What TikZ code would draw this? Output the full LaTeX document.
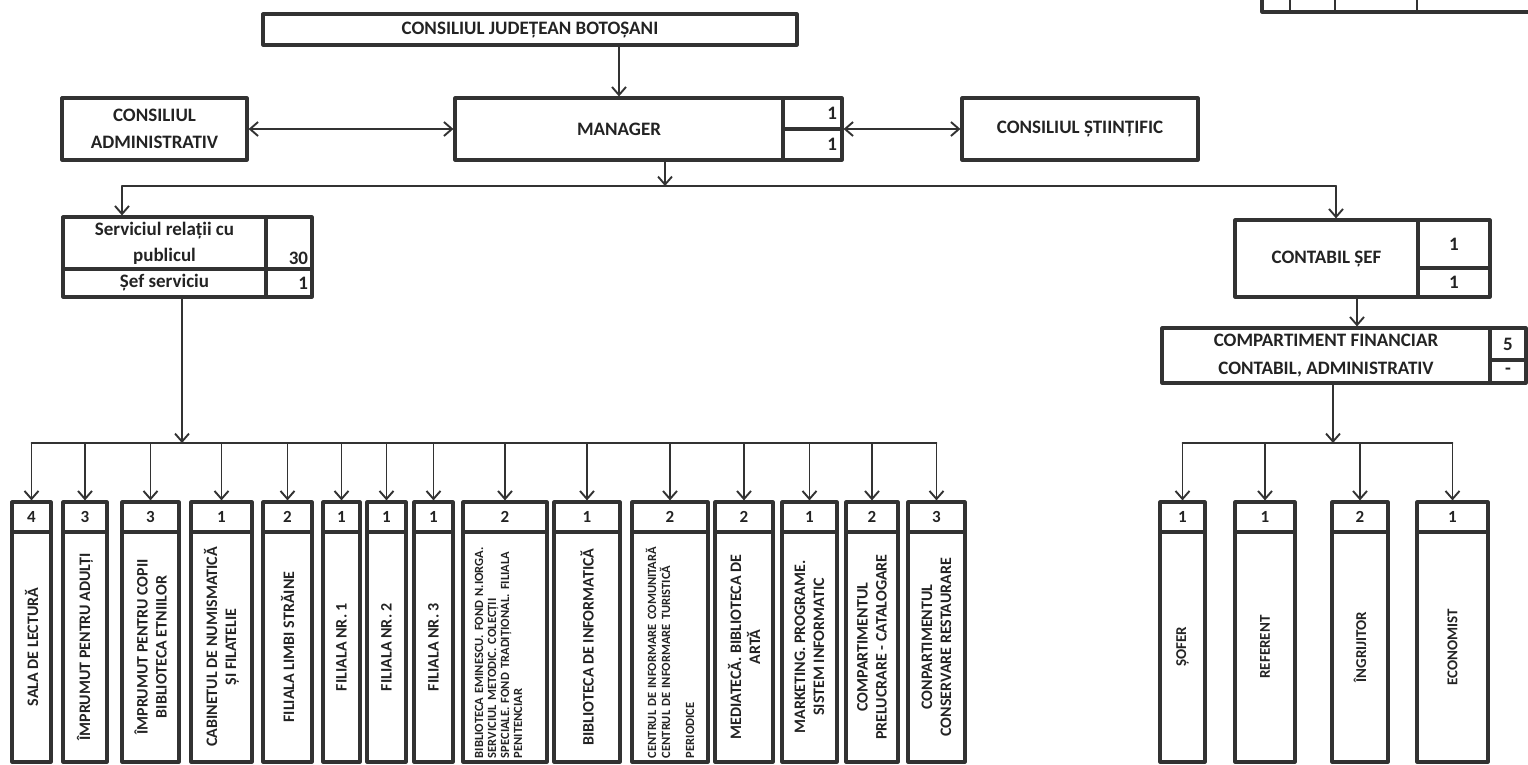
\documentclass[tikz,border=0pt]{standalone}
\usepackage{fontspec}
\setmainfont{Carlito}
\usetikzlibrary{arrows.meta}
\definecolor{ink}{RGB}{50,50,50}
\definecolor{letter}{RGB}{35,35,35}
\newcommand{\boxfont}{\fontsize{19}{22}\selectfont\bfseries}
\newcommand{\unitfont}{\fontsize{16}{19}\selectfont\bfseries}
\newcommand{\smallunitfont}{\fontsize{12.5}{13}\selectfont\bfseries}
\tikzset{
  cell/.style={draw=ink, line width=3.2pt, inner sep=0pt, text=letter, font=\boxfont, align=center},
  num/.style={cell, minimum height=30, font=\fontsize{17}{20}\selectfont\bfseries},
  unit/.style={cell, rotate=90, minimum width=230, font=\unitfont},
  wire/.style={draw=ink, line width=1.9pt},
}
\begin{document}
\begin{tikzpicture}[line cap=round,line join=round,>={Straight Barb[length=8pt,width=14pt]},x=1pt,y=-1pt]
		\useasboundingbox (0,0) rectangle (1528,764);
		% partial table, top right
		\draw [draw=ink,line width=3.2pt] (1262,-6) rectangle (1534,12);
		\draw [draw=ink,line width=1.9pt] (1290,-6) -- (1290,12);
		\draw [draw=ink,line width=1.9pt] (1335,-6) -- (1335,12);
		\draw [draw=ink,line width=1.9pt] (1417,-6) -- (1417,12);
		% top
		\node[cell, minimum width=534, minimum height=31] (jud) at (530,29.5) {CONSILIUL JUDEȚEAN BOTOȘANI};
		\node[cell, minimum width=185, minimum height=62, font=\fontsize{19}{27}\selectfont\bfseries] (adm) at (154.5,129) {CONSILIUL\\ADMINISTRATIV};
		\node[cell, minimum width=328, minimum height=62] (mgr) at (619,129) {MANAGER};
		\node[cell, minimum width=59, minimum height=31] (mgrA) at (812.5,113.5) {};
		\node[cell, minimum width=59, minimum height=31] (mgrB) at (812.5,144.5) {};
		\node[text=letter, font=\boxfont, anchor=east] (mgrAn) at ([xshift=-3]mgrA.east) {1};
		\node[text=letter, font=\boxfont, anchor=east] (mgrBn) at ([xshift=-3]mgrB.east) {1};
		\node[cell, minimum width=236, minimum height=62] (sti) at (1080,129) {CONSILIUL ȘTIINȚIFIC};
		\draw [wire,->] (jud.south -| mgr.north) -- (mgr.north);
		\draw [wire,<->] (adm.east) -- (mgr.west);
		\draw [wire,<->] (mgr.east -| mgrA.east) -- (sti.west);
		% first bus
		\coordinate (busM) at (665,186);
		\coordinate (busL) at (122,186);
		\coordinate (busR) at (1336,186);
		\draw [wire,->] (mgr.south -| busM) -- (busM);
		\draw [wire] (busL) -- (busR);
		% serviciul relatii cu publicul
		\node[cell, minimum width=203, minimum height=52, font=\fontsize{19}{26}\selectfont\bfseries] (srvA) at (164.5,243) {Serviciul relații cu\\publicul};
		\node[cell, minimum width=46, minimum height=52] (srvB) at (289,243) {};
		\node[cell, minimum width=203, minimum height=28, font=\fontsize{19}{22}\selectfont\bfseries] (srvC) at (164.5,283) {Șef serviciu};
		\node[cell, minimum width=46, minimum height=28] (srvD) at (289,283) {};
		\node[text=letter, font=\boxfont, anchor=south east] (srvBn) at ([shift={(-2,-2)}]srvB.south east) {30};
		\node[text=letter, font=\boxfont, anchor=east] (srvDn) at ([xshift=-2]srvD.east) {1};
		\draw [wire,->] (busL) -- (srvA.north -| busL);
		% contabil sef
		\node[cell, minimum width=183, minimum height=77] (csA) at (1326.5,258.5) {CONTABIL ȘEF};
		\node[cell, minimum width=72, minimum height=48] (csB) at (1454,244) {1};
		\node[cell, minimum width=72, minimum height=29] (csC) at (1454,282.5) {1};
		\draw [wire,->] (busR) -- (csA.north -| busR);
		\node[cell, minimum width=328, minimum height=55, font=\fontsize{19}{28}\selectfont\bfseries] (cfA) at (1326,355.5) {COMPARTIMENT FINANCIAR\\CONTABIL, ADMINISTRATIV};
		\node[cell, minimum width=36, minimum height=32] (cfB) at (1508,344) {5};
		\node[cell, minimum width=36, minimum height=23] (cfC) at (1508,371.5) {-};
		\coordinate (csDown) at (1357,297);
		\draw [wire,->] (csDown) -- (csDown |- cfA.north);
		% second bus, left
		\coordinate (busB) at (182,443);
		\draw [wire,->] (srvC.south -| busB) -- (busB);
		\node[num, minimum width=39] (n1) at (31.5,517) {4};
		\node[unit, minimum height=39] (u1) at (31.5,647) {SALA DE LECTURĂ};
		\node[num, minimum width=44] (n2) at (85,517) {3};
		\node[unit, minimum height=44] (u2) at (85,647) {ÎMPRUMUT PENTRU ADULȚI};
		\node[num, minimum width=57] (n3) at (150.5,517) {3};
		\node[unit, minimum height=57] (u3) at (150.5,647) {ÎMPRUMUT PENTRU COPII\\BIBLIOTECA ETNIILOR};
		\node[num, minimum width=61] (n4) at (221.5,517) {1};
		\node[unit, minimum height=61] (u4) at (221.5,647) {CABINETUL DE NUMISMATICĂ\\ȘI FILATELIE};
		\node[num, minimum width=49] (n5) at (287.5,517) {2};
		\node[unit, minimum height=49] (u5) at (287.5,647) {FILIALA LIMBI STRĂINE};
		\node[num, minimum width=37] (n6) at (341.5,517) {1};
		\node[unit, minimum height=37] (u6) at (341.5,647) {FILIALA NR. 1};
		\node[num, minimum width=39] (n7) at (386.5,517) {1};
		\node[unit, minimum height=39] (u7) at (386.5,647) {FILIALA NR. 2};
		\node[num, minimum width=39] (n8) at (433.5,517) {1};
		\node[unit, minimum height=39] (u8) at (433.5,647) {FILIALA NR. 3};
		\node[num, minimum width=84] (n9) at (505,517) {2};
		\node[unit, minimum height=84, font=\smallunitfont, align=left, text width=222] (u9) at (505,647) {BIBLIOTECA EMINESCU. FOND N.IORGA.\\SERVICIUL METODIC. COLECȚII\\SPECIALE. FOND TRADIȚIONAL. FILIALA\\PENITENCIAR\\\mbox{}};
		\node[num, minimum width=66] (n10) at (587,517) {1};
		\node[unit, minimum height=66] (u10) at (587,647) {BIBLIOTECA DE INFORMATICĂ};
		\node[num, minimum width=76] (n11) at (670,517) {2};
		\node[unit, minimum height=76, font=\fontsize{12.5}{14}\selectfont\bfseries, align=left, text width=222] (u11) at (670,647) {CENTRUL DE INFORMARE COMUNITARĂ\\CENTRUL DE INFORMARE TURISTICĂ\\[10pt]PERIODICE};
		\node[num, minimum width=58] (n12) at (744,517) {2};
		\node[unit, minimum height=58] (u12) at (744,647) {MEDIATECĂ. BIBLIOTECA DE\\ARTĂ};
		\node[num, minimum width=55] (n13) at (809.5,517) {1};
		\node[unit, minimum height=55] (u13) at (809.5,647) {MARKETING. PROGRAME.\\SISTEM INFORMATIC};
		\node[num, minimum width=52] (n14) at (872,517) {2};
		\node[unit, minimum height=52] (u14) at (872,647) {COMPARTIMENTUL\\PRELUCRARE - CATALOGARE};
		\node[num, minimum width=57] (n15) at (936.5,517) {3};
		\node[unit, minimum height=57] (u15) at (936.5,647) {CONPARTIMENTUL\\CONSERVARE RESTAURARE};
		\draw [wire] (n1.north |- busB) -- (n15.north |- busB);
		\draw [wire,->] (n1.north |- busB) -- (n1.north);
		\draw [wire,->] (n2.north |- busB) -- (n2.north);
		\draw [wire,->] (n3.north |- busB) -- (n3.north);
		\draw [wire,->] (n4.north |- busB) -- (n4.north);
		\draw [wire,->] (n5.north |- busB) -- (n5.north);
		\draw [wire,->] (n6.north |- busB) -- (n6.north);
		\draw [wire,->] (n7.north |- busB) -- (n7.north);
		\draw [wire,->] (n8.north |- busB) -- (n8.north);
		\draw [wire,->] (n9.north |- busB) -- (n9.north);
		\draw [wire,->] (n10.north |- busB) -- (n10.north);
		\draw [wire,->] (n11.north |- busB) -- (n11.north);
		\draw [wire,->] (n12.north |- busB) -- (n12.north);
		\draw [wire,->] (n13.north |- busB) -- (n13.north);
		\draw [wire,->] (n14.north |- busB) -- (n14.north);
		\draw [wire,->] (n15.north |- busB) -- (n15.north);
		% second bus, right
		\coordinate (busC) at (1333,443);
		\draw [wire,->] (cfA.south -| busC) -- (busC);
		\node[num, minimum width=45] (r1) at (1182.5,517) {1};
		\node[unit, minimum height=45, font=\fontsize{15}{18}\selectfont\bfseries] (q1) at (1182.5,647) {ȘOFER};
		\node[num, minimum width=60] (r2) at (1265,517) {1};
		\node[unit, minimum height=60, font=\fontsize{15}{18}\selectfont\bfseries] (q2) at (1265,647) {REFERENT};
		\node[num, minimum width=56] (r3) at (1360,517) {2};
		\node[unit, minimum height=56, font=\fontsize{15}{18}\selectfont\bfseries] (q3) at (1360,647) {ÎNGRIJITOR};
		\node[num, minimum width=71] (r4) at (1452.5,517) {1};
		\node[unit, minimum height=71, font=\fontsize{15}{18}\selectfont\bfseries] (q4) at (1452.5,647) {ECONOMIST};
		\draw [wire] (r1.north |- busC) -- (r4.north |- busC);
		\draw [wire,->] (r1.north |- busC) -- (r1.north);
		\draw [wire,->] (r2.north |- busC) -- (r2.north);
		\draw [wire,->] (r3.north |- busC) -- (r3.north);
		\draw [wire,->] (r4.north |- busC) -- (r4.north);
	\end{tikzpicture}
\end{document}
